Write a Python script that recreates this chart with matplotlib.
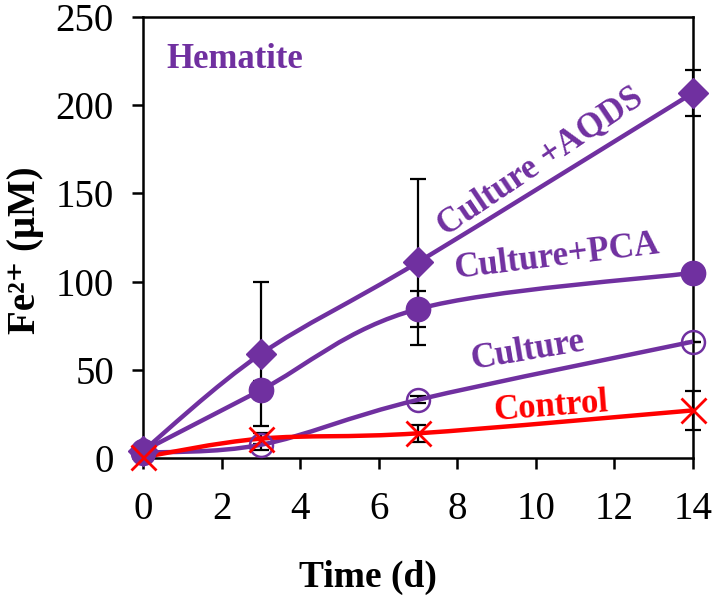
import matplotlib
matplotlib.use("Agg")
import matplotlib.pyplot as plt
from matplotlib.path import Path
from matplotlib.patches import PathPatch

plt.rcParams['font.family'] = ['Liberation Serif', 'DejaVu Serif']

# ---------------- data ----------------
days = [0, 3, 7, 14]
aqds = [4, 59, 111, 207]
aqds_err = [0, 41, 47, 13]
pca = [4, 38.5, 84.5, 105]
pca_err = [0, 5, 10, 0]
culture = [3, 7.5, 33, 66]
culture_err = [0, 3, 2, 0]
control = [0.5, 11, 14, 27]
control_err = [0, 3, 5, 11]

x_ticks = [0, 2, 4, 6, 8, 10, 12, 14]
y_ticks = [0, 50, 100, 150, 200, 250]

PURPLE = '#7030A0'
RED = '#FF0000'


def smooth_path(xs, ys):
    pts = list(zip(xs, ys))
    n = len(pts)
    verts = [pts[0]]
    codes = [Path.MOVETO]
    for i in range(n - 1):
        p0 = pts[max(i - 1, 0)]
        p1 = pts[i]
        p2 = pts[i + 1]
        p3 = pts[min(i + 2, n - 1)]
        c1 = (p1[0] + (p2[0] - p0[0]) / 6, p1[1] + (p2[1] - p0[1]) / 6)
        c2 = (p2[0] - (p3[0] - p1[0]) / 6, p2[1] - (p3[1] - p1[1]) / 6)
        verts += [c1, c2, p2]
        codes += [Path.CURVE4] * 3
    return Path(verts, codes)


fig = plt.figure(figsize=(7.21, 5.97), dpi=100)
ax = fig.add_axes([0.1984, 0.2328, 0.7628, 0.7387])

# error bars
for ys, es in [(aqds, aqds_err), (pca, pca_err), (culture, culture_err), (control, control_err)]:
    ax.errorbar(days, ys, yerr=es, fmt='none', ecolor='black', elinewidth=1.6,
                capsize=6, capthick=1.6, zorder=2, clip_on=False)

# smooth lines
for ys, col in [(aqds, PURPLE), (pca, PURPLE), (culture, PURPLE), (control, RED)]:
    ax.add_patch(PathPatch(smooth_path(days, ys), facecolor='none', edgecolor=col,
                           lw=3.2, zorder=3, clip_on=False))

# markers
ax.plot(days, aqds, linestyle='none', marker='D', ms=15, color=PURPLE, zorder=4, clip_on=False)
ax.plot(days, pca, linestyle='none', marker='o', ms=17.5, color=PURPLE, zorder=4, clip_on=False)
ax.plot(days, culture, linestyle='none', marker='o', ms=16.5, markerfacecolor='none',
        markeredgecolor=PURPLE, markeredgewidth=1.8, zorder=4, clip_on=False)
ax.plot(days, control, linestyle='none', marker='x', ms=18, markeredgewidth=2.0,
        color=RED, zorder=5, clip_on=False)

ax.set_xlim(0, 14)
ax.set_ylim(0, 250)
ax.set_xticks(x_ticks)
ax.set_yticks(y_ticks)
ax.tick_params(axis='both', direction='out', length=8, width=1.8, labelsize=28)
ax.tick_params(axis='x', pad=16)
ax.tick_params(axis='y', pad=13)
for s in ax.spines.values():
    s.set_linewidth(1.8)

ax.set_xlabel('Time (d)', fontsize=27, fontweight='bold')
ax.xaxis.set_label_coords(0.409, -0.232)
ax.set_ylabel('Fe²⁺ (μM)', fontsize=28, fontweight='bold',
              family=['Liberation Serif', 'DejaVu Serif'])
ax.yaxis.set_label_coords(-0.18, 0.472)

txt = dict(fontsize=25, fontweight='bold', ha='center', va='center', rotation_mode='anchor')
ax.text(0.6, 226, 'Hematite', color=PURPLE, fontsize=25, fontweight='bold', ha='left', va='center')
ax.text(10.12, 168, 'Culture +AQDS', color=PURPLE, rotation=34, **txt)
ax.text(10.52, 113.7, 'Culture+PCA', color=PURPLE, rotation=7, **txt)
ax.text(9.78, 60.7, 'Culture', color=PURPLE, rotation=9.5, **txt)
ax.text(10.37, 29, 'Control', color=RED, rotation=4.5, **txt)

fig.savefig('out.png', dpi=100)
